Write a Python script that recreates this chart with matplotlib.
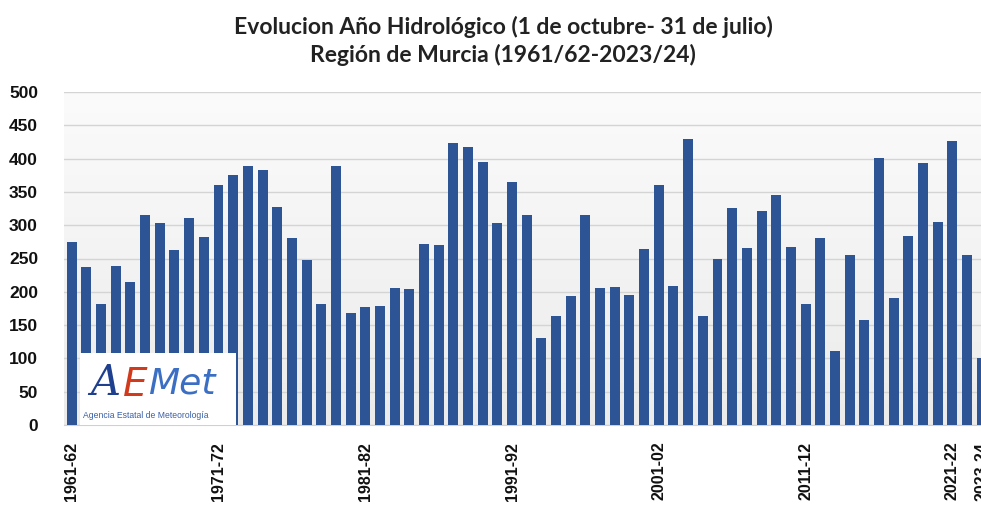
import matplotlib
matplotlib.use("Agg")
import matplotlib.pyplot as plt
import numpy as np
from matplotlib.patches import Rectangle

start_years = list(range(1961, 2024))
categories = [f"{y}-{str(y + 1)[-2:]}" for y in start_years]
values = [275, 237, 181, 239, 214, 315, 303, 263, 311, 283,
          361, 375, 389, 383, 327, 281, 247, 181, 389, 168,
          177, 179, 206, 204, 272, 270, 423, 418, 395, 303,
          365, 316, 131, 163, 194, 315, 205, 207, 195, 264,
          361, 209, 430, 163, 250, 326, 266, 321, 345, 268,
          182, 281, 111, 256, 157, 401, 191, 284, 393, 305,
          426, 256, 100]
label_years = ["1961-62", "1971-72", "1981-82", "1991-92", "2001-02",
               "2011-12", "2021-22", "2023-24"]
yticks = [0, 50, 100, 150, 200, 250, 300, 350, 400, 450, 500]

W, H = 981, 509
fig = plt.figure(figsize=(W / 100, H / 100), dpi=100)
fig.patch.set_facecolor("white")

left = 64.4 / W
width = (989 - 64.4) / W
bottom = (H - 425) / H
top = (H - 92) / H
ax = fig.add_axes([left, bottom, width, top - bottom])

x = np.arange(len(categories))
grad = np.linspace(0, 1, 256).reshape(-1, 1)
ax.imshow(grad, extent=[-0.5, len(categories) - 0.5, 0, 500], aspect="auto",
          cmap=matplotlib.colors.LinearSegmentedColormap.from_list(
              "g", ["#ebebeb", "#fbfbfb"]), origin="lower", zorder=0)

ax.bar(x, values, width=0.68, color="#2D5596", zorder=3)
ax.set_xlim(-0.5, len(categories) - 0.5)
ax.set_ylim(0, 500)
ax.set_yticks(yticks)
ax.set_yticklabels([str(v) for v in yticks], fontsize=12.5, fontweight="bold",
                   family="Liberation Sans", color="#111111")
ax.grid(axis="y", color="#d4d4d4", linewidth=1, zorder=1)
ax.set_axisbelow(True)

tick_pos = [categories.index(c) for c in label_years]
ax.set_xticks(tick_pos)
ax.set_xticklabels(label_years, rotation=90, fontsize=11.5, fontweight="bold",
                   family="Liberation Sans", color="#111111")
ax.tick_params(axis="both", length=0)
ax.tick_params(axis="x", pad=12)
ax.tick_params(axis="y", pad=19)
for s in ["top", "right", "left"]:
    ax.spines[s].set_visible(False)
ax.spines["bottom"].set_color("#d0d0d0")

fig.text(503 / W, 1 - 27 / H, "Evolucion Año Hidrológico (1 de octubre- 31 de julio)",
         ha="center", va="center", fontsize=16.5, fontweight="bold",
         family="Lato", color="#222222")
fig.text(503 / W, 1 - 55 / H, "Región de Murcia (1961/62-2023/24)",
         ha="center", va="center", fontsize=16.5, fontweight="bold",
         family="Lato", color="#222222")

# AEMet logo box (text-based)
fig.patches.append(Rectangle((80 / W, (H - 425) / H), 156 / W, 72 / H,
                             transform=fig.transFigure, facecolor="white",
                             edgecolor="none", zorder=10))
fig.text(90 / W, 1 - 383 / H, "A", fontsize=30, color="#1f3f8f", family="DejaVu Serif",
         style="italic", ha="left", va="center", zorder=11)
fig.text(123 / W, 1 - 385 / H, "E", fontsize=28, color="#d23a1c", family="DejaVu Sans",
         style="italic", ha="left", va="center", zorder=11)
fig.text(148 / W, 1 - 383 / H, "Met", fontsize=26, color="#3a6fc4", family="DejaVu Sans",
         style="italic", ha="left", va="center", zorder=11)
fig.text(83 / W, 1 - 415 / H, "Agencia Estatal de Meteorología", fontsize=6.2,
         color="#3a5fa8", family="Liberation Sans", ha="left", va="center", zorder=11)

fig.savefig("out.png", dpi=100, facecolor="white")
